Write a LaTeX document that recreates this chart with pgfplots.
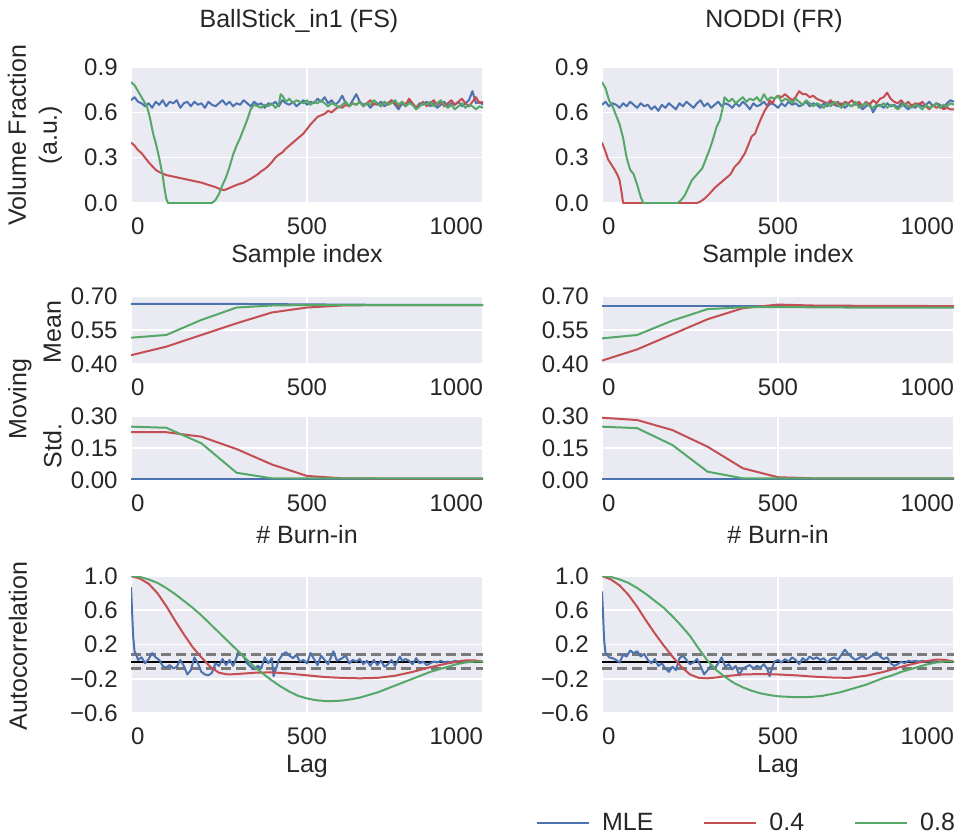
\documentclass[border=0pt]{standalone}
\usepackage{fontspec}
\setmainfont{Liberation Sans}
\usepackage{pgfplots}
\pgfplotsset{compat=1.18}
\definecolor{bgc}{HTML}{EAEAF2}
\definecolor{textc}{HTML}{262626}
\definecolor{sblue}{HTML}{4C72B0}
\definecolor{sred}{HTML}{C44E52}
\definecolor{sgreen}{HTML}{55A868}
\definecolor{dgray}{HTML}{7A7A7A}
\newcommand\tfont{\fontsize{12}{14}\selectfont}
\newcommand\lfont{\fontsize{12.5}{15.5}\selectfont}
\pgfplotsset{
  sb/.style={
    scale only axis, width=176pt, xmin=0, xmax=1000,
    anchor=north west,
    axis background/.style={fill=bgc, draw=none},
    axis line style={draw=none},
    major tick length=0pt,
    grid=major, major grid style={white, line width=0.8pt},
    xtick={0,500,1000},
    xticklabels={\makebox[0pt][l]{0},500,\makebox[0pt][r]{1000}},
    tick label style={font=\tfont, text=textc},
    xticklabel style={anchor=north, inner sep=0pt, yshift=-7pt},
    yticklabel style={anchor=east, inner sep=0pt, xshift=-6.5pt},
    every axis plot/.append style={line width=1pt, line join=round},
  },
  vf/.style={sb, height=68pt, ymin=0, ymax=0.9, ytick={0,0.3,0.6,0.9}, yticklabels={0.0,0.3,0.6,0.9}},
  mm/.style={sb, height=33.75pt, ymin=0.40, ymax=0.70, ytick={0.40,0.55,0.70}, yticklabels={0.40,0.55,0.70}},
  ms/.style={sb, height=32pt, ymin=0, ymax=0.30, ytick={0,0.15,0.30}, yticklabels={0.00,0.15,0.30}},
  ac/.style={sb, height=68.5pt, ymin=-0.6, ymax=1.0, ytick={-0.6,-0.2,0.2,0.6,1.0}, yticklabels={−0.6,−0.2,0.2,0.6,1.0}},
  dl/.style={dgray, forget plot, line width=1.4pt, dash pattern=on 5pt off 2.5pt},
}
\begin{document}
\begin{tikzpicture}
\path[use as bounding box] (0,0) rectangle (479.5pt,-417pt);
% ---------- titles and labels ----------
\begin{scope}[every node/.style={font=\lfont, text=textc, inner sep=0pt}]
\node[anchor=base] at (149.5pt,-14pt) {BallStick\_in1 (FS)};
\node[anchor=base] at (387pt,-14pt) {NODDI (FR)};
\node[anchor=base] at (153.5pt,-131.3pt) {Sample index};
\node[anchor=base] at (389pt,-131.3pt) {Sample index};
\node[anchor=base] at (153.5pt,-271.7pt) {\# Burn-in};
\node[anchor=base] at (389pt,-271.7pt) {\# Burn-in};
\node[anchor=base] at (153.5pt,-386.3pt) {Lag};
\node[anchor=base] at (389pt,-386.3pt) {Lag};
\node[rotate=90, align=center] at (17.5pt,-67.5pt) {Volume Fraction\\(a.u.)};
\node[rotate=90] at (26.25pt,-166pt) {Mean};
\node[rotate=90] at (26.25pt,-223pt) {Std.};
\node[rotate=90] at (10pt,-199.5pt) {Moving};
\node[rotate=90] at (9pt,-323pt) {Autocorrelation};
\end{scope}

% ================= LEFT COLUMN =================
\begin{axis}[vf, at={(65.5pt,-33.5pt)}]
\addplot[sblue] coordinates {(0,0.68) (10,0.70) (20,0.67) (30,0.66) (40,0.64) (50,0.66) (60,0.63) (70,0.67) (80,0.65) (90,0.68) (100,0.64) (110,0.67) (120,0.66) (130,0.68) (140,0.63) (150,0.66) (160,0.67) (170,0.64) (180,0.67) (190,0.65) (200,0.66) (210,0.63) (220,0.67) (230,0.65) (240,0.64) (250,0.66) (260,0.68) (270,0.65) (280,0.67) (290,0.64) (300,0.66) (310,0.65) (320,0.68) (330,0.66) (340,0.64) (350,0.67) (360,0.65) (370,0.66) (380,0.63) (390,0.66) (400,0.65) (410,0.67) (420,0.64) (430,0.68) (440,0.66) (450,0.65) (460,0.67) (470,0.64) (480,0.66) (490,0.68) (500,0.65) (510,0.67) (520,0.66) (530,0.69) (540,0.67) (550,0.70) (560,0.66) (570,0.68) (580,0.65) (590,0.67) (600,0.71) (610,0.66) (620,0.64) (630,0.68) (640,0.72) (650,0.67) (660,0.65) (670,0.66) (680,0.63) (690,0.66) (700,0.65) (710,0.67) (720,0.64) (730,0.66) (740,0.68) (750,0.65) (760,0.62) (770,0.66) (780,0.64) (790,0.67) (800,0.65) (810,0.63) (820,0.66) (830,0.65) (840,0.67) (850,0.64) (860,0.66) (870,0.63) (880,0.65) (890,0.67) (900,0.64) (910,0.66) (920,0.65) (930,0.67) (940,0.64) (950,0.66) (960,0.68) (970,0.74) (980,0.66) (990,0.67) (1000,0.65)};
\addplot[sred] coordinates {(0,0.40) (10,0.38) (20,0.35) (30,0.33) (40,0.30) (50,0.27) (60,0.245) (70,0.22) (80,0.205) (90,0.195) (100,0.185) (120,0.175) (140,0.165) (160,0.155) (180,0.145) (200,0.135) (220,0.12) (240,0.105) (255,0.09) (265,0.085) (280,0.10) (300,0.12) (320,0.135) (340,0.16) (360,0.19) (370,0.21) (380,0.225) (390,0.245) (400,0.27) (410,0.30) (420,0.32) (430,0.335) (440,0.36) (450,0.38) (460,0.40) (470,0.42) (480,0.44) (490,0.46) (500,0.49) (510,0.52) (520,0.545) (530,0.57) (540,0.58) (550,0.59) (560,0.61) (570,0.60) (580,0.62) (590,0.64) (600,0.63) (610,0.65) (620,0.64) (630,0.66) (640,0.65) (650,0.67) (660,0.64) (670,0.66) (680,0.68) (690,0.65) (700,0.66) (710,0.64) (720,0.67) (730,0.65) (740,0.68) (750,0.66) (760,0.64) (770,0.67) (780,0.65) (790,0.69) (800,0.66) (810,0.63) (820,0.65) (830,0.67) (840,0.64) (850,0.66) (860,0.68) (870,0.65) (880,0.67) (890,0.64) (900,0.66) (910,0.68) (920,0.65) (930,0.67) (940,0.69) (950,0.66) (960,0.64) (970,0.67) (980,0.70) (990,0.66) (1000,0.67)};
\addplot[sgreen] coordinates {(0,0.80) (10,0.78) (20,0.74) (30,0.70) (40,0.66) (45,0.64) (50,0.60) (55,0.55) (60,0.49) (65,0.44) (70,0.40) (75,0.35) (80,0.30) (85,0.24) (90,0.18) (95,0.10) (100,0.03) (105,0.0) (230,0.0) (240,0.02) (250,0.06) (260,0.12) (270,0.17) (280,0.24) (290,0.32) (300,0.38) (310,0.43) (320,0.49) (330,0.55) (340,0.62) (350,0.65) (360,0.64) (370,0.63) (380,0.65) (390,0.64) (400,0.66) (410,0.63) (420,0.65) (425,0.72) (430,0.71) (440,0.67) (450,0.69) (460,0.66) (470,0.68) (480,0.67) (490,0.66) (500,0.68) (510,0.65) (520,0.67) (530,0.66) (540,0.68) (550,0.66) (560,0.64) (570,0.66) (580,0.65) (590,0.63) (600,0.65) (610,0.67) (620,0.64) (630,0.66) (640,0.65) (650,0.67) (660,0.64) (670,0.66) (680,0.65) (690,0.68) (700,0.66) (710,0.64) (720,0.67) (730,0.65) (740,0.66) (750,0.68) (760,0.65) (770,0.67) (780,0.64) (790,0.66) (800,0.65) (810,0.62) (820,0.64) (830,0.66) (840,0.65) (850,0.67) (860,0.64) (870,0.66) (880,0.68) (890,0.65) (900,0.63) (910,0.65) (920,0.62) (930,0.64) (940,0.66) (950,0.63) (960,0.65) (970,0.64) (980,0.62) (990,0.64) (1000,0.63)};
\end{axis}

\begin{axis}[mm, at={(65.5pt,-148.25pt)}]
\addplot[sblue] coordinates {(0,0.667) (100,0.667) (200,0.667) (300,0.667) (400,0.666) (500,0.665) (600,0.664) (700,0.663) (800,0.663) (900,0.663) (1000,0.663)};
\addplot[sred] coordinates {(0,0.439) (100,0.477) (200,0.529) (300,0.581) (400,0.629) (500,0.651) (600,0.660) (700,0.662) (800,0.662) (900,0.662) (1000,0.662)};
\addplot[sgreen] coordinates {(0,0.517) (100,0.529) (200,0.596) (300,0.651) (400,0.660) (500,0.662) (600,0.662) (700,0.662) (800,0.662) (900,0.662) (1000,0.662)};
\end{axis}

\begin{axis}[ms, at={(65.5pt,-208pt)}]
\addplot[sblue] coordinates {(0,0.006) (100,0.006) (200,0.006) (300,0.006) (400,0.006) (500,0.006) (600,0.006) (700,0.006) (800,0.006) (900,0.006) (1000,0.006)};
\addplot[sred] coordinates {(0,0.224) (100,0.224) (200,0.203) (300,0.145) (400,0.073) (500,0.019) (600,0.008) (700,0.007) (800,0.007) (900,0.007) (1000,0.007)};
\addplot[sgreen] coordinates {(0,0.250) (100,0.245) (200,0.172) (300,0.034) (400,0.008) (500,0.008) (600,0.008) (700,0.008) (800,0.008) (900,0.008) (1000,0.008)};
\end{axis}

\begin{axis}[ac, at={(65.5pt,-288pt)}]
\addplot[dl] coordinates {(0,0.08) (1000,0.08)};
\addplot[dl] coordinates {(0,-0.08) (1000,-0.08)};
\addplot[black, forget plot] coordinates {(0,0) (1000,0)};
\addplot[sblue] coordinates {(0,0.87) (3,0.6) (6,0.3) (10,0.12) (15,0.08) (20,0.02) (30,0.05) (40,-0.02) (50,0.03) (60,0.10) (70,0.05) (80,0.02) (90,-0.05) (100,-0.07) (110,-0.04) (120,-0.08) (130,-0.06) (140,0.02) (150,-0.05) (160,-0.15) (170,-0.10) (180,0.05) (190,-0.02) (200,-0.12) (210,-0.15) (220,-0.16) (230,-0.13) (240,-0.02) (250,-0.05) (260,0.03) (270,-0.04) (280,0.02) (290,-0.05) (300,0.05) (305,0.12) (310,0.10) (320,0.06) (330,-0.02) (340,-0.06) (350,-0.09) (360,-0.05) (370,-0.08) (380,0.05) (390,-0.02) (400,0.04) (405,-0.17) (420,0.02) (430,0.08) (440,0.11) (450,0.07) (460,0.04) (470,0.08) (480,0.00) (490,0.02) (500,-0.02) (510,0.10) (520,0.03) (530,-0.04) (540,0.07) (550,0.02) (560,-0.03) (575,0.12) (585,0.01) (600,0.04) (610,0.07) (620,-0.02) (630,0.02) (640,0.0) (650,0.03) (660,-0.03) (670,0.01) (680,-0.05) (690,0.02) (700,-0.04) (710,0.01) (720,-0.06) (730,-0.03) (740,0.02) (750,-0.05) (764,0.06) (770,0.01) (780,0.03) (790,0.01) (800,-0.03) (810,0.04) (820,-0.02) (830,0.0) (840,-0.04) (850,-0.02) (860,0.0) (870,-0.01) (880,0.01) (890,-0.01) (900,0.0) (910,-0.01) (920,0.01) (930,0.0) (940,0.01) (950,0.0) (970,0.0)};
\addplot[sred] coordinates {(0,1.0) (25,0.97) (50,0.91) (75,0.80) (100,0.65) (125,0.48) (150,0.32) (175,0.17) (200,0.05) (225,-0.06) (250,-0.13) (275,-0.15) (300,-0.145) (350,-0.13) (400,-0.125) (450,-0.14) (500,-0.16) (550,-0.18) (600,-0.19) (650,-0.195) (700,-0.19) (750,-0.165) (800,-0.12) (850,-0.065) (900,-0.02) (950,0.015) (975,0.015) (1000,0.0)};
\addplot[sgreen] coordinates {(0,1.0) (25,0.99) (50,0.96) (75,0.92) (100,0.86) (125,0.79) (150,0.71) (175,0.63) (200,0.54) (225,0.44) (250,0.34) (275,0.24) (300,0.14) (325,0.04) (350,-0.06) (375,-0.14) (400,-0.22) (425,-0.29) (450,-0.35) (475,-0.40) (500,-0.43) (525,-0.45) (550,-0.46) (575,-0.46) (600,-0.455) (625,-0.44) (650,-0.42) (675,-0.39) (700,-0.36) (725,-0.32) (750,-0.28) (775,-0.24) (800,-0.2) (825,-0.16) (850,-0.12) (875,-0.09) (900,-0.06) (925,-0.03) (950,-0.01) (975,0.0) (1000,0.0)};
\end{axis}

% ================= RIGHT COLUMN =================
\begin{axis}[vf, at={(301pt,-33.5pt)}]
\addplot[sblue] coordinates {(0,0.65) (10,0.67) (20,0.64) (30,0.66) (40,0.65) (50,0.63) (60,0.66) (70,0.64) (80,0.67) (90,0.65) (100,0.63) (110,0.66) (120,0.64) (130,0.65) (140,0.62) (150,0.64) (160,0.61) (170,0.65) (180,0.63) (190,0.66) (200,0.64) (210,0.62) (220,0.66) (230,0.64) (240,0.67) (250,0.65) (260,0.63) (270,0.66) (280,0.68) (290,0.64) (300,0.66) (310,0.63) (320,0.65) (330,0.67) (340,0.64) (350,0.66) (360,0.65) (370,0.63) (380,0.66) (390,0.64) (400,0.67) (410,0.65) (420,0.62) (430,0.66) (440,0.64) (450,0.65) (460,0.67) (470,0.64) (480,0.66) (490,0.65) (500,0.63) (510,0.66) (520,0.64) (530,0.67) (540,0.65) (550,0.66) (560,0.64) (570,0.65) (580,0.67) (590,0.64) (600,0.66) (610,0.65) (620,0.63) (630,0.66) (640,0.64) (650,0.67) (660,0.65) (670,0.64) (680,0.66) (690,0.63) (700,0.65) (710,0.64) (720,0.66) (730,0.65) (740,0.62) (750,0.64) (760,0.66) (770,0.60) (780,0.64) (790,0.65) (800,0.63) (810,0.66) (820,0.64) (830,0.65) (840,0.63) (850,0.66) (860,0.64) (870,0.62) (880,0.65) (890,0.63) (900,0.66) (910,0.64) (920,0.65) (930,0.67) (940,0.64) (950,0.66) (960,0.65) (970,0.63) (980,0.66) (990,0.68) (1000,0.67)};
\addplot[sred] coordinates {(0,0.40) (10,0.34) (17,0.29) (25,0.26) (36,0.22) (45,0.18) (50,0.15) (55,0.08) (60,0.0) (270,0.0) (280,0.01) (292,0.03) (305,0.06) (320,0.10) (335,0.13) (350,0.16) (365,0.19) (377,0.24) (390,0.27) (406,0.33) (415,0.38) (425,0.44) (435,0.46) (443,0.51) (452,0.56) (462,0.61) (470,0.64) (476,0.68) (485,0.66) (490,0.69) (500,0.71) (510,0.70) (520,0.72) (530,0.70) (540,0.68) (550,0.70) (560,0.74) (570,0.72) (580,0.72) (590,0.70) (600,0.71) (610,0.69) (620,0.68) (630,0.67) (640,0.66) (650,0.68) (660,0.65) (670,0.67) (680,0.64) (690,0.67) (700,0.66) (710,0.68) (720,0.65) (730,0.67) (740,0.64) (750,0.67) (760,0.65) (770,0.68) (780,0.66) (790,0.69) (800,0.70) (810,0.73) (820,0.69) (830,0.67) (840,0.66) (850,0.68) (860,0.65) (870,0.67) (880,0.64) (890,0.66) (900,0.65) (910,0.67) (920,0.64) (930,0.62) (940,0.65) (950,0.63) (960,0.64) (970,0.62) (980,0.63) (990,0.62) (1000,0.62)};
\addplot[sgreen] coordinates {(0,0.80) (10,0.76) (20,0.68) (30,0.64) (40,0.58) (50,0.52) (60,0.43) (70,0.30) (80,0.22) (90,0.19) (100,0.12) (110,0.04) (117,0.0) (215,0.0) (225,0.02) (235,0.05) (245,0.10) (255,0.15) (270,0.19) (285,0.23) (295,0.29) (305,0.35) (315,0.42) (325,0.50) (335,0.55) (342,0.62) (348,0.70) (360,0.67) (370,0.69) (380,0.66) (390,0.68) (400,0.70) (410,0.67) (420,0.69) (430,0.68) (440,0.70) (450,0.67) (460,0.72) (470,0.68) (480,0.70) (490,0.69) (500,0.71) (510,0.67) (520,0.69) (530,0.68) (540,0.66) (550,0.69) (560,0.67) (570,0.65) (580,0.68) (590,0.66) (600,0.64) (610,0.66) (620,0.65) (630,0.63) (640,0.66) (650,0.64) (660,0.67) (670,0.65) (680,0.63) (690,0.66) (700,0.65) (710,0.64) (720,0.67) (730,0.63) (740,0.65) (750,0.66) (760,0.64) (770,0.63) (780,0.65) (790,0.64) (800,0.66) (810,0.63) (820,0.65) (830,0.64) (840,0.62) (850,0.64) (860,0.66) (870,0.64) (880,0.63) (890,0.65) (900,0.64) (910,0.62) (920,0.65) (930,0.63) (940,0.64) (950,0.66) (960,0.63) (970,0.65) (980,0.64) (990,0.66) (1000,0.65)};
\end{axis}

\begin{axis}[mm, at={(301pt,-148.25pt)}]
\addplot[sblue] coordinates {(0,0.658) (100,0.658) (200,0.658) (300,0.658) (400,0.658) (500,0.658) (600,0.658) (700,0.658) (800,0.658) (900,0.658) (1000,0.658)};
\addplot[sred] coordinates {(0,0.415) (100,0.465) (200,0.532) (300,0.599) (400,0.648) (500,0.664) (600,0.660) (700,0.659) (800,0.658) (900,0.658) (1000,0.657)};
\addplot[sgreen] coordinates {(0,0.514) (100,0.529) (200,0.593) (300,0.644) (400,0.652) (500,0.653) (600,0.652) (700,0.651) (800,0.651) (900,0.651) (1000,0.651)};
\end{axis}

\begin{axis}[ms, at={(301pt,-208pt)}]
\addplot[sblue] coordinates {(0,0.005) (100,0.005) (200,0.005) (300,0.005) (400,0.005) (500,0.005) (600,0.005) (700,0.005) (800,0.005) (900,0.005) (1000,0.005)};
\addplot[sred] coordinates {(0,0.292) (100,0.281) (200,0.234) (300,0.156) (400,0.055) (500,0.013) (600,0.008) (700,0.008) (800,0.008) (900,0.008) (1000,0.008)};
\addplot[sgreen] coordinates {(0,0.250) (100,0.243) (200,0.164) (300,0.039) (400,0.008) (500,0.008) (600,0.008) (700,0.008) (800,0.008) (900,0.008) (1000,0.008)};
\end{axis}

\begin{axis}[ac, at={(301pt,-288pt)},
  legend columns=3,
  legend image code/.code={\draw[#1] (0pt,0pt) -- (26pt,0pt);},
  legend style={at={(axis description cs:1,0)}, anchor=east, yshift=-55pt, xshift=0.5pt,
    draw=none, fill=none, inner sep=0pt, outer sep=0pt,
    nodes={inner sep=0pt, font=\lfont, text=textc},
    /tikz/every odd column/.append style={column sep=6pt},
    /tikz/every even column/.append style={column sep=25pt}}]
\addplot[dl] coordinates {(0,0.08) (1000,0.08)};
\addplot[dl] coordinates {(0,-0.08) (1000,-0.08)};
\addplot[black, forget plot] coordinates {(0,0) (1000,0)};
\addplot[sblue] coordinates {(0,0.82) (3,0.55) (6,0.25) (10,0.10) (15,0.08) (20,0.05) (30,0.04) (40,0.02) (50,-0.01) (60,0.08) (70,0.06) (80,0.13) (90,0.10) (100,0.12) (110,0.06) (120,0.09) (130,0.02) (140,-0.02) (150,0.03) (160,-0.05) (170,-0.02) (180,-0.08) (190,-0.12) (200,-0.06) (210,-0.10) (220,0.04) (230,0.07) (240,0.02) (250,-0.03) (260,-0.01) (270,0.03) (280,-0.05) (290,-0.15) (300,-0.10) (310,-0.04) (320,-0.08) (330,-0.02) (340,0.05) (350,-0.06) (360,-0.03) (370,-0.09) (380,-0.05) (390,-0.16) (400,-0.08) (410,-0.06) (420,-0.04) (430,-0.08) (440,-0.05) (450,-0.07) (460,-0.03) (470,-0.09) (476,-0.17) (485,-0.05) (490,0.0) (500,0.02) (510,-0.01) (520,0.03) (530,0.0) (540,0.05) (550,0.02) (560,-0.03) (570,0.04) (580,0.01) (590,0.06) (600,0.03) (610,0.05) (620,0.02) (630,0.04) (640,-0.01) (650,0.03) (660,0.05) (670,0.02) (680,0.08) (690,0.14) (700,0.09) (710,0.05) (720,0.02) (730,0.04) (740,0.07) (750,0.03) (760,0.05) (770,0.08) (780,0.11) (790,0.06) (800,0.03) (810,0.05) (820,-0.02) (830,-0.05) (840,-0.03) (850,0.0) (860,-0.02) (870,0.01) (880,0.0) (890,0.01) (900,0.0) (910,0.01) (920,0.0) (930,0.0) (950,0.0)};
\addplot[sred] coordinates {(0,1.0) (25,0.96) (50,0.89) (75,0.78) (100,0.64) (125,0.48) (150,0.33) (175,0.19) (200,0.06) (225,-0.06) (250,-0.15) (275,-0.19) (300,-0.195) (325,-0.185) (350,-0.17) (400,-0.15) (450,-0.145) (500,-0.15) (550,-0.16) (600,-0.175) (650,-0.185) (700,-0.19) (750,-0.165) (800,-0.12) (850,-0.06) (900,-0.01) (950,0.025) (975,0.02) (1000,0.0)};
\addplot[sgreen] coordinates {(0,1.0) (25,0.99) (50,0.96) (75,0.92) (100,0.86) (125,0.79) (150,0.71) (175,0.63) (200,0.53) (225,0.42) (250,0.30) (275,0.15) (300,0.01) (325,-0.10) (350,-0.18) (375,-0.25) (400,-0.30) (425,-0.34) (450,-0.37) (475,-0.39) (500,-0.405) (525,-0.41) (550,-0.415) (575,-0.415) (600,-0.41) (625,-0.40) (650,-0.38) (675,-0.36) (700,-0.33) (725,-0.30) (750,-0.27) (775,-0.23) (800,-0.19) (825,-0.16) (850,-0.12) (875,-0.09) (900,-0.06) (925,-0.03) (950,-0.01) (975,0.0) (1000,0.0)};
\legend{MLE,0.4,0.8}
\end{axis}
\end{tikzpicture}
\end{document}
